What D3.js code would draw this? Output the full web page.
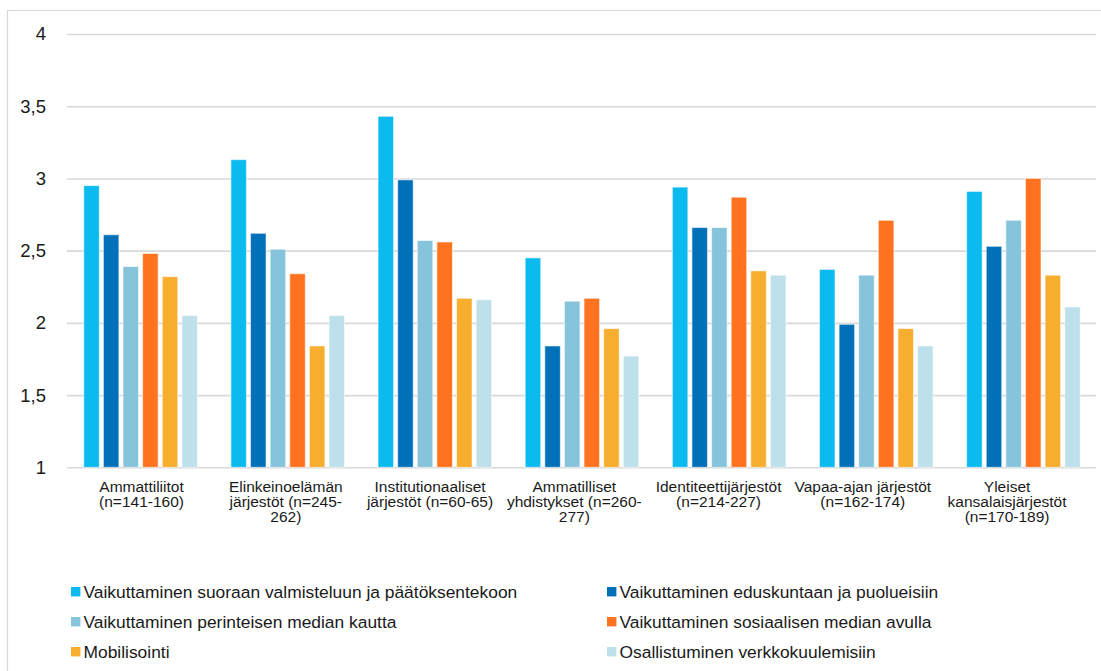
<!DOCTYPE html>
<html>
<head>
<meta charset="utf-8">
<script src="https://cdn.jsdelivr.net/npm/d3@7"></script>
<style>
    body { margin: 0; background: #fff; }
    text { font-family: "Liberation Sans", Arial, sans-serif; fill: #1a1a1a; }
    .grid line { stroke: #d9d9d9; stroke-width: 1.6; }
    .grid path { display: none; }
</style>
</head>
<body>
<svg id="chart" width="1101" height="671"></svg>
<script>
const categories = [
    ["Ammattiliitot", "(n=141-160)"],
    ["Elinkeinoelämän", "järjestöt (n=245-", "262)"],
    ["Institutionaaliset", "järjestöt (n=60-65)"],
    ["Ammatilliset", "yhdistykset (n=260-", "277)"],
    ["Identiteettijärjestöt", "(n=214-227)"],
    ["Vapaa-ajan järjestöt", "(n=162-174)"],
    ["Yleiset", "kansalaisjärjestöt", "(n=170-189)"]
];

const seriesNames = [
    "Vaikuttaminen suoraan valmisteluun ja päätöksentekoon",
    "Vaikuttaminen eduskuntaan ja puolueisiin",
    "Vaikuttaminen perinteisen median kautta",
    "Vaikuttaminen sosiaalisen median avulla",
    "Mobilisointi",
    "Osallistuminen verkkokuulemisiin"
];

const colors = ["#0bbbef", "#0070b9", "#86c4db", "#fe7220", "#f7ad2e", "#bde0ea"];

const suoraan = [2.95, 3.13, 3.43, 2.45, 2.94, 2.37, 2.91];
const eduskunta = [2.61, 2.62, 2.99, 1.84, 2.66, 1.99, 2.53];
const perinteinen = [2.39, 2.51, 2.57, 2.15, 2.66, 2.33, 2.71];
const sosiaalinen = [2.48, 2.34, 2.56, 2.17, 2.87, 2.71, 3.00];
const mobilisointi = [2.32, 1.84, 2.17, 1.96, 2.36, 1.96, 2.33];
const verkko = [2.05, 2.05, 2.16, 1.77, 2.33, 1.84, 2.11];

const yTicks = [1, 1.5, 2, 2.5, 3, 3.5, 4];
const yTickLabels = ["1", "1,5", "2", "2,5", "3", "3,5", "4"];

const seriesValues = [suoraan, eduskunta, perinteinen, sosiaalinen, mobilisointi, verkko];

const plotLeft = 67;
const plotRight = 1097;
const plotTop = 34;
const plotBottom = 467.3;

const svg = d3.select("#chart");

// outer frame (right and bottom edges fall outside the picture)
svg.append("rect")
    .attr("x", 7.5)
    .attr("y", 10.5)
    .attr("width", 1110)
    .attr("height", 700)
    .attr("fill", "none")
    .attr("stroke", "#d9d9d9")
    .attr("stroke-width", 1.2);

const yScale = d3.scaleLinear()
    .domain([1, 4])
    .range([plotBottom, plotTop]);

const x0 = d3.scaleBand()
    .domain(d3.range(categories.length))
    .range([plotLeft, plotRight])
    .paddingInner(0.2)
    .paddingOuter(0.1);

const x1 = d3.scaleBand()
    .domain(d3.range(seriesNames.length))
    .range([0, x0.bandwidth()])
    .paddingInner(0.21)
    .paddingOuter(0.105);

// the category labels sit on a slightly tighter pitch than the bar groups
const xLabel = d3.scaleBand()
    .domain(d3.range(categories.length))
    .range([69.4, 1079.2]);

// gridlines
svg.append("g")
    .attr("class", "grid")
    .attr("transform", `translate(${plotLeft}, 0)`)
    .call(
        d3.axisLeft(yScale)
            .tickValues(yTicks)
            .tickSize(-(1096 - plotLeft))
            .tickFormat("")
    );

// y labels
svg.append("g")
    .selectAll("text")
    .data(yTicks)
    .enter()
    .append("text")
    .attr("x", 46)
    .attr("y", d => yScale(d))
    .attr("dy", "0.35em")
    .attr("text-anchor", "end")
    .style("font-size", "18.5px")
    .text((d, i) => yTickLabels[i]);

// bars
const groups = svg.append("g")
    .selectAll("g")
    .data(categories)
    .enter()
    .append("g")
    .attr("transform", (d, i) => `translate(${x0(i)}, 0)`);

groups.selectAll("rect")
    .data((d, ci) => seriesValues.map((vals, si) => ({ si: si, v: vals[ci] })))
    .enter()
    .append("rect")
    .attr("x", d => x1(d.si))
    .attr("y", d => yScale(d.v))
    .attr("width", x1.bandwidth())
    .attr("height", d => plotBottom - yScale(d.v))
    .attr("fill", d => colors[d.si])
    .attr("stroke", "#ffffff")
    .attr("stroke-opacity", 0.55)
    .attr("stroke-width", 1);

// category labels
const catLabels = svg.append("g")
    .selectAll("text")
    .data(categories)
    .enter()
    .append("text")
    .attr("text-anchor", "middle")
    .attr("x", (d, i) => xLabel(i) + xLabel.bandwidth() / 2)
    .attr("y", 491.5)
    .style("font-size", "15.5px");

catLabels.selectAll("tspan")
    .data(d => d)
    .enter()
    .append("tspan")
    .attr("x", function () { return d3.select(this.parentNode).attr("x"); })
    .attr("dy", (d, i) => i === 0 ? 0 : 15)
    .text(d => d);

// legend, two columns
const legend = svg.append("g")
    .selectAll("g")
    .data(seriesNames)
    .enter()
    .append("g")
    .attr("transform", (d, i) => `translate(${i % 2 === 0 ? 71 : 607}, ${591.7 + Math.floor(i / 2) * 30})`);

legend.append("rect")
    .attr("x", 0)
    .attr("y", -4.7)
    .attr("width", 9.4)
    .attr("height", 9.4)
    .attr("fill", (d, i) => colors[i]);

legend.append("text")
    .attr("x", 12.5)
    .attr("y", 0)
    .attr("dy", "0.36em")
    .style("font-size", "17.4px")
    .text(d => d);
</script>
</body>
</html>
